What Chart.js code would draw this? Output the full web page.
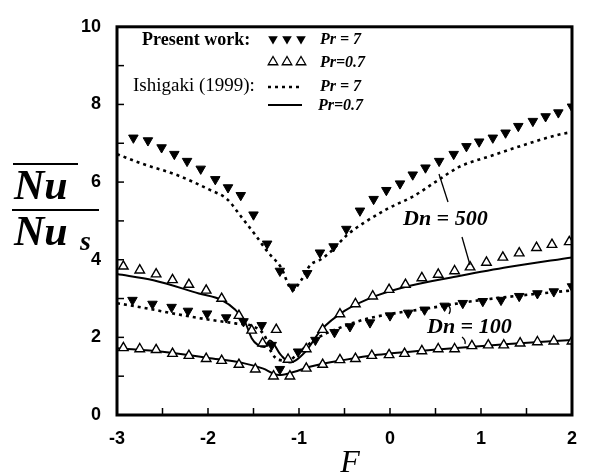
<!DOCTYPE html>
<html>
<head>
<meta charset="utf-8">
<script src="https://cdn.jsdelivr.net/npm/chart.js@4.4.0/dist/chart.umd.min.js"></script>
<style>
  html, body { margin: 0; padding: 0; background: #fff; }
  #wrap { width: 590px; height: 476px; }
</style>
</head>
<body>
<div id="wrap"><canvas id="nuChart" width="590" height="476"></canvas></div>
<script>
// Dn = 500, Pr = 7 (present work, filled triangles)
const dn500Pr7WorkF = [-2.82, -2.66, -2.51, -2.37, -2.23, -2.08, -1.92, -1.78, -1.64, -1.50, -1.35, -1.21, -1.07, -0.91, -0.77, -0.62, -0.48, -0.33, -0.18, -0.04, 0.11, 0.25, 0.39, 0.54, 0.70, 0.84, 0.98, 1.13, 1.27, 1.41, 1.57, 1.71, 1.85, 2.0];
const dn500Pr7WorkNu = [7.14, 7.07, 6.89, 6.72, 6.54, 6.34, 6.07, 5.86, 5.66, 5.16, 4.41, 3.71, 3.3, 3.65, 4.18, 4.34, 4.79, 5.26, 5.56, 5.79, 5.96, 6.19, 6.37, 6.54, 6.72, 6.92, 7.04, 7.14, 7.27, 7.44, 7.57, 7.69, 7.79, 7.94];
// Dn = 500, Pr = 7 (Ishigaki, dashed)
const dn500Pr7IshiF = [-3, -2.72, -2.35, -1.99, -1.79, -1.63, -1.48, -1.34, -1.2, -1.07, -0.98, -0.87, -0.78, -0.65, -0.47, -0.28, -0.03, 0.26, 0.51, 0.76, 1.13, 1.49, 1.85, 2.0];
const dn500Pr7IshiNu = [6.72, 6.47, 6.19, 5.81, 5.56, 5.09, 4.64, 4.19, 3.81, 3.22, 3.46, 3.88, 3.98, 4.21, 4.64, 4.96, 5.31, 5.64, 6.02, 6.39, 6.69, 6.97, 7.22, 7.29];
// Dn = 500, Pr = 0.7 (present work, open triangles)
const dn500Pr07WorkF = [-2.93, -2.75, -2.57, -2.39, -2.21, -2.02, -1.85, -1.66, -1.52, -1.40, -1.25, -1.12, -0.92, -0.74, -0.55, -0.38, -0.19, -0.01, 0.17, 0.35, 0.53, 0.71, 0.88, 1.06, 1.24, 1.42, 1.61, 1.78, 1.97];
const dn500Pr07WorkNu = [3.83, 3.73, 3.63, 3.48, 3.36, 3.21, 3.0, 2.56, 2.18, 1.85, 2.2, 1.43, 1.7, 2.2, 2.6, 2.86, 3.06, 3.23, 3.36, 3.53, 3.62, 3.71, 3.81, 3.93, 4.06, 4.17, 4.31, 4.39, 4.46];
// Dn = 500, Pr = 0.7 (Ishigaki, solid)
const dn500Pr07IshiF = [-3, -2.6, -2.1, -1.85, -1.7, -1.59, -1.52, -1.45, -1.38, -1.32, -1.2, -1.1, -0.93, -0.76, -0.5, -0.14, 0.22, 0.76, 1.3, 2.0];
const dn500Pr07IshiNu = [3.63, 3.47, 3.13, 2.96, 2.71, 2.38, 1.98, 1.8, 1.75, 1.92, 1.55, 1.35, 1.63, 2.18, 2.68, 3.08, 3.33, 3.58, 3.81, 4.06];
// Dn = 100, Pr = 7 (present work, filled triangles)
const dn100Pr7WorkF = [-2.83, -2.61, -2.4, -2.22, -2.01, -1.8, -1.61, -1.41, -1.3, -1.21, -1.01, -0.82, -0.61, -0.44, -0.22, 0.0, 0.2, 0.38, 0.6, 0.8, 1.02, 1.22, 1.42, 1.62, 1.8, 2.0];
const dn100Pr7WorkNu = [2.96, 2.86, 2.78, 2.68, 2.61, 2.51, 2.41, 2.31, 1.8, 1.18, 1.63, 1.93, 2.13, 2.28, 2.38, 2.56, 2.63, 2.71, 2.81, 2.88, 2.93, 2.96, 3.06, 3.13, 3.18, 3.31];
// Dn = 100, Pr = 7 (Ishigaki, dashed)
const dn100Pr7IshiF = [-3, -2.7, -2.35, -2.0, -1.7, -1.5, -1.38, -1.3, -1.22, -1.12, -1.0, -0.8, -0.6, -0.3, 0.0, 0.4, 0.9, 1.4, 2.0];
const dn100Pr7IshiNu = [2.88, 2.76, 2.6, 2.46, 2.36, 2.28, 2.05, 1.6, 1.42, 1.4, 1.62, 1.98, 2.2, 2.45, 2.6, 2.74, 2.93, 3.07, 3.21];
// Dn = 100, Pr = 0.7 (present work, open triangles)
const dn100Pr07WorkF = [-2.93, -2.75, -2.57, -2.39, -2.21, -2.02, -1.85, -1.66, -1.48, -1.28, -1.10, -0.92, -0.74, -0.55, -0.38, -0.20, -0.01, 0.16, 0.35, 0.53, 0.71, 0.90, 1.08, 1.25, 1.43, 1.62, 1.80, 2.0];
const dn100Pr07WorkNu = [1.73, 1.70, 1.68, 1.58, 1.53, 1.45, 1.40, 1.30, 1.18, 1.0, 1.0, 1.2, 1.3, 1.42, 1.45, 1.53, 1.55, 1.58, 1.65, 1.7, 1.7, 1.78, 1.8, 1.8, 1.85, 1.88, 1.9, 1.9];
// Dn = 100, Pr = 0.7 (Ishigaki, solid)
const dn100Pr07IshiF = [-3, -2.5, -2.0, -1.6, -1.4, -1.22, -1.1, -0.87, -0.5, -0.14, 0.59, 1.3, 2.0];
const dn100Pr07IshiNu = [1.72, 1.63, 1.47, 1.33, 1.2, 1.03, 1.08, 1.25, 1.42, 1.55, 1.7, 1.83, 1.93];

const xTickLabels = [-3, -2, -1, 0, 1, 2];
const xMinorTicks = [-2.5, -2, -1.5, -1, -0.5, 0, 0.5, 1, 1.5];
const yTickLabels = [0, 2, 4, 6, 8, 10];
const yMinorTicks = [1, 2, 3, 4, 5, 6, 7, 8, 9];

function pts(fs, nus) {
    return fs.map((f, i) => ({ x: f, y: nus[i] }));
}

const serif = "'Liberation Serif', 'DejaVu Serif', serif";
const sans = "'Liberation Sans', Arial, sans-serif";

function filledMarkers(fs, nus) {
    return {
        data: pts(fs, nus), showLine: false,
        pointStyle: 'triangle', rotation: 180, pointRadius: 5.5,
        backgroundColor: '#000', borderColor: '#000', borderWidth: 1
    };
}
function openMarkers(fs, nus) {
    return {
        data: pts(fs, nus), showLine: false,
        pointStyle: 'triangle', pointRadius: 5.5,
        backgroundColor: '#fff', borderColor: '#000', borderWidth: 1.4
    };
}
function curve(fs, nus, dashed) {
    return {
        data: pts(fs, nus), showLine: true, pointRadius: 0,
        borderColor: '#000', borderWidth: dashed ? 2.6 : 2,
        borderDash: dashed ? [3, 4] : [],
        cubicInterpolationMode: 'monotone', fill: false
    };
}

function triangle(ctx, x, y, r, down, filled) {
    ctx.beginPath();
    const s = down ? -1 : 1;
    ctx.moveTo(x, y - s * r);
    ctx.lineTo(x - r * 0.87, y + s * r * 0.5);
    ctx.lineTo(x + r * 0.87, y + s * r * 0.5);
    ctx.closePath();
    if (filled) { ctx.fillStyle = '#000'; ctx.fill(); }
    else { ctx.fillStyle = '#fff'; ctx.fill(); ctx.lineWidth = 1.3; ctx.strokeStyle = '#000'; ctx.stroke(); }
}

const decorations = {
    id: 'decorations',
    afterDraw(chart) {
        const ctx = chart.ctx;
        const { left, right, top, bottom } = chart.chartArea;
        const xs = chart.scales.x, ys = chart.scales.y;
        ctx.save();
        ctx.strokeStyle = '#000';
        ctx.lineWidth = 3;
        ctx.strokeRect(left, top, right - left, bottom - top);

        ctx.lineWidth = 1.5;
        xMinorTicks.forEach(v => {
            const px = xs.getPixelForValue(v);
            ctx.beginPath(); ctx.moveTo(px, bottom); ctx.lineTo(px, bottom - 7); ctx.stroke();
        });
        yMinorTicks.forEach(v => {
            const py = ys.getPixelForValue(v);
            ctx.beginPath(); ctx.moveTo(left, py); ctx.lineTo(left + 7, py); ctx.stroke();
        });

        // legend
        ctx.fillStyle = '#000';
        ctx.textBaseline = 'middle';
        ctx.textAlign = 'left';
        ctx.font = 'bold 18px ' + serif;
        ctx.fillText('Present work:', 142, 40);
        ctx.font = '19px ' + serif;
        ctx.fillText('Ishigaki (1999):', 133, 86);
        [273, 287, 301].forEach(x => triangle(ctx, x, 39, 5.5, true, true));
        [273, 287, 301].forEach(x => triangle(ctx, x, 62, 5.5, false, false));
        ctx.strokeStyle = '#000';
        ctx.lineWidth = 2.4;
        ctx.setLineDash([3, 4]);
        ctx.beginPath(); ctx.moveTo(268, 87); ctx.lineTo(302, 87); ctx.stroke();
        ctx.setLineDash([]);
        ctx.lineWidth = 2;
        ctx.beginPath(); ctx.moveTo(268, 105); ctx.lineTo(302, 105); ctx.stroke();
        ctx.font = 'bold italic 16px ' + serif;
        ctx.fillStyle = '#000';
        ctx.fillText('Pr = 7', 320, 40);
        ctx.fillText('Pr=0.7', 320, 63);
        ctx.fillText('Pr = 7', 320, 87);
        ctx.fillText('Pr=0.7', 318, 106);

        // curve labels and leaders
        ctx.font = 'bold italic 22px ' + serif;
        ctx.fillText('Dn = 500', 403, 219);
        ctx.fillText('Dn = 100', 427, 327);
        ctx.lineWidth = 1.3;
        ctx.beginPath(); ctx.moveTo(439, 174); ctx.lineTo(448, 202); ctx.stroke();
        ctx.beginPath(); ctx.moveTo(462, 237); ctx.lineTo(470, 265); ctx.stroke();
        ctx.beginPath(); ctx.moveTo(448, 305); ctx.quadraticCurveTo(452, 309, 449, 314); ctx.stroke();
        ctx.beginPath(); ctx.moveTo(462, 337); ctx.quadraticCurveTo(466, 340, 465, 344); ctx.stroke();

        // axis titles
        ctx.font = 'bold italic 42px ' + serif;
        ctx.textBaseline = 'alphabetic';
        ctx.fillText('Nu', 14, 199);
        ctx.fillText('Nu', 14, 245);
        ctx.font = 'bold italic 28px ' + serif;
        ctx.fillText('s', 80, 250);
        ctx.lineWidth = 2;
        ctx.beginPath(); ctx.moveTo(13, 164); ctx.lineTo(78, 164); ctx.stroke();
        ctx.beginPath(); ctx.moveTo(12, 210); ctx.lineTo(99, 210); ctx.stroke();
        ctx.font = 'italic 32px ' + serif;
        ctx.textAlign = 'center';
        ctx.fillText('F', 350, 472);
        ctx.restore();
    }
};

new Chart(document.getElementById('nuChart'), {
    type: 'scatter',
    data: {
        datasets: [
            filledMarkers(dn500Pr7WorkF, dn500Pr7WorkNu),
            openMarkers(dn500Pr07WorkF, dn500Pr07WorkNu),
            filledMarkers(dn100Pr7WorkF, dn100Pr7WorkNu),
            openMarkers(dn100Pr07WorkF, dn100Pr07WorkNu),
            curve(dn500Pr7IshiF, dn500Pr7IshiNu, true),
            curve(dn500Pr07IshiF, dn500Pr07IshiNu, false),
            curve(dn100Pr7IshiF, dn100Pr7IshiNu, true),
            curve(dn100Pr07IshiF, dn100Pr07IshiNu, false)
        ]
    },
    options: {
        responsive: false,
        animation: false,
        devicePixelRatio: 1,
        layout: { padding: { top: 16, right: 13, left: 0, bottom: 0 } },
        plugins: { legend: { display: false }, tooltip: { enabled: false } },
        scales: {
            x: {
                type: 'linear', min: -3, max: 2,
                afterBuildTicks: s => { s.ticks = xTickLabels.map(v => ({ value: v })); },
                afterFit: s => { s.height = 61; },
                grid: { display: false, drawTicks: false },
                border: { display: false },
                ticks: { color: '#000', padding: 13, font: { family: sans, size: 18, weight: 'bold' } }
            },
            y: {
                type: 'linear', min: 0, max: 10,
                afterBuildTicks: s => { s.ticks = yTickLabels.map(v => ({ value: v })); },
                afterFit: s => { s.width = 117; },
                grid: { display: false, drawTicks: false },
                border: { display: false },
                ticks: { color: '#000', padding: 16, font: { family: sans, size: 18, weight: 'bold' } }
            }
        }
    },
    plugins: [decorations]
});
</script>
</body>
</html>
